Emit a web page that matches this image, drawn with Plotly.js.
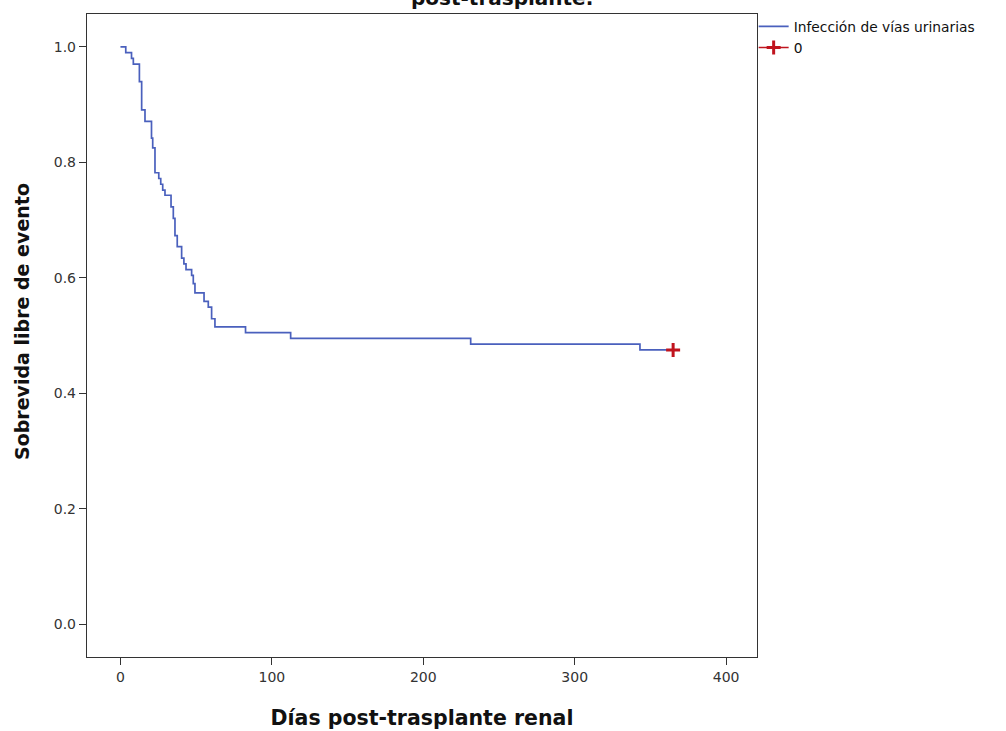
<!DOCTYPE html>
<html>
<head>
<meta charset="utf-8">
<script src="https://cdn.plot.ly/plotly-3.0.1.min.js"></script>
<style>
  html, body { margin: 0; padding: 0; background: #ffffff; }
  #chart { width: 1006px; height: 731px; }
</style>
</head>
<body>
<div id="chart"></div>
<script>
// Kaplan-Meier steps
const days = [0, 3.5, 7.3, 8.5, 12.5, 14, 16.2, 20.5, 21.3, 22.8, 25.3, 26.6, 27.9, 29.4, 33.4, 34.9, 36, 37.5, 40.4, 41.9, 43.3, 47, 48.1, 49.2, 55.2, 58, 60.2, 62.4, 82.6, 112.4, 231.3, 343.1, 365];
const survival = [1.0, 0.990, 0.980, 0.970, 0.940, 0.891, 0.871, 0.842, 0.825, 0.782, 0.772, 0.762, 0.752, 0.743, 0.723, 0.703, 0.673, 0.654, 0.634, 0.624, 0.614, 0.604, 0.590, 0.574, 0.559, 0.549, 0.529, 0.515, 0.505, 0.495, 0.485, 0.475, 0.475];
const censorDays = [365];
const censorSurvival = [0.475];
const seriesNames = ["Infección de vías urinarias", "0"];
const xTicks = [0, 100, 200, 300, 400];
const yTicks = [0.0, 0.2, 0.4, 0.6, 0.8, 1.0];
const yTickLabels = ["0.0", "0.2", "0.4", "0.6", "0.8", "1.0"];
const titleText = "post-trasplante.";
const xTitle = "Días post-trasplante renal";
const yTitle = "Sobrevida libre de evento";

const blue = "#4a60bd";
const red = "#c0141e";
const fontFam = "DejaVu Sans, Arial, sans-serif";

const traces = [
  {
    x: days, y: survival, type: "scatter", mode: "lines",
    line: { shape: "hv", color: blue, width: 1.7 },
    name: seriesNames[0], hoverinfo: "skip"
  },
  {
    x: censorDays, y: censorSurvival, type: "scatter", mode: "lines+markers",
    line: { color: red, width: 1.5 },
    marker: { symbol: "cross-thin", size: 10, color: red, line: { color: red, width: 3 } },
    name: seriesNames[1], hoverinfo: "skip"
  }
];

const layout = {
  width: 1006, height: 731,
  margin: { l: 87, r: 249, t: 14, b: 74, pad: 0, autoexpand: false },
  paper_bgcolor: "#ffffff", plot_bgcolor: "#ffffff",
  font: { family: fontFam, color: "#222" },
  showlegend: true,
  legend: {
    x: 0.995, xanchor: "left", yref: "container", y: 0.985, yanchor: "top",
    font: { family: fontFam, size: 13.8, color: "#111" },
    bgcolor: "rgba(0,0,0,0)", tracegroupgap: 0, itemwidth: 30
  },
  xaxis: {
    range: [-22.1, 420.4], tickvals: xTicks, ticktext: xTicks.map(String),
    ticks: "outside", ticklen: 7, tickcolor: "#333", tickwidth: 1,
    showline: true, mirror: true, linecolor: "#333", linewidth: 1.2,
    showgrid: false, zeroline: false,
    tickfont: { family: fontFam, size: 14, color: "#333" },
    title: { text: xTitle, font: { family: fontFam, size: 20.5, color: "#111", weight: "bold" }, standoff: 26 }
  },
  yaxis: {
    range: [-0.057, 1.057], tickvals: yTicks, ticktext: yTickLabels,
    ticks: "outside", ticklen: 7, tickcolor: "#333", tickwidth: 1,
    showline: true, mirror: true, linecolor: "#333", linewidth: 1.2,
    showgrid: false, zeroline: false,
    tickfont: { family: fontFam, size: 14, color: "#333" }
  },
  annotations: [
    {
      text: "<b>" + titleText + "</b>", xref: "paper", yref: "paper",
      x: 0.62, y: 1, xanchor: "center", yanchor: "bottom", yshift: 2,
      showarrow: false, font: { family: fontFam, size: 20, color: "#111" }
    },
    {
      text: "<b>" + yTitle + "</b>", xref: "paper", yref: "paper",
      x: -0.097, y: 0.521, xanchor: "center", yanchor: "middle", textangle: -90,
      showarrow: false, font: { family: fontFam, size: 19, color: "#111" }
    }
  ]
};

Plotly.newPlot("chart", traces, layout, { staticPlot: true, displayModeBar: false });
</script>
</body>
</html>
